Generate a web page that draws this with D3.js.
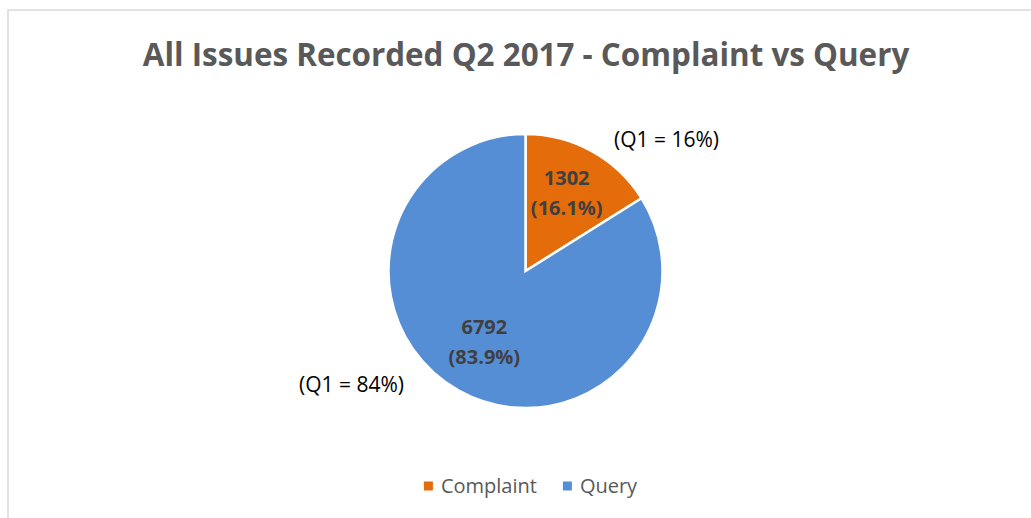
<!DOCTYPE html>
<html>
<head>
<meta charset="utf-8">
<script src="https://cdn.jsdelivr.net/npm/d3@7"></script>
<style>
  html, body { margin: 0; padding: 0; background: #fff; overflow: hidden; }
  svg { display: block; font-family: "Open Sans", sans-serif; }
</style>
</head>
<body>
<script>
const categories = ["Complaint", "Query"];
const counts = [1302, 6792];
const shares = ["16.1%", "83.9%"];
const q1Labels = ["(Q1 = 16%)", "(Q1 = 84%)"];
const colors = ["#E46C0A", "#558ED5"];

const width = 1031, height = 518;
const cx = 525.5, cy = 271, radius = 137;

const svg = d3.select('body').append('svg')
  .attr('width', width).attr('height', height);

// chart area border (runs off the right/bottom edge)
svg.append('rect')
  .attr('x', 8).attr('y', 10)
  .attr('width', 1200).attr('height', 700)
  .attr('fill', '#fff')
  .attr('stroke', '#d9d9d9')
  .attr('stroke-width', 1.5);

// title
const title = svg.append('text')
  .attr('x', 526).attr('y', 66)
  .attr('text-anchor', 'middle')
  .attr('font-weight', 700)
  .attr('font-size', '30px')
  .attr('fill', '#595959')
  .text('All Issues Recorded Q2 2017 - Complaint vs Query');
// fit to the original width
const tw = title.node().getComputedTextLength();
title.attr('font-size', (30 * 767 / tw) + 'px');

const pie = d3.pie().sort(null).value(d => d)(counts);
const arc = d3.arc().innerRadius(0).outerRadius(radius);
const labelArc = d3.arc().innerRadius(85).outerRadius(85);

const g = svg.append('g').attr('transform', `translate(${cx},${cy})`);

g.selectAll('path')
  .data(pie)
  .enter().append('path')
  .attr('d', arc)
  .attr('fill', (d, i) => colors[i])
  .attr('stroke', '#fff')
  .attr('stroke-width', 2.5)
  .attr('stroke-linejoin', 'miter');

const lbl = g.selectAll('text.lbl')
  .data(pie)
  .enter().append('text')
  .attr('class', 'lbl')
  .attr('text-anchor', 'middle')
  .attr('font-weight', 700)
  .attr('font-size', '20px')
  .attr('fill', '#404040')
  .attr('transform', d => {
    const [x, y] = labelArc.centroid(d);
    return `translate(${x},${y - 3.5})`;
  });
lbl.append('tspan').attr('x', 0).attr('y', -8).text((d, i) => counts[i]);
lbl.append('tspan').attr('x', 0).attr('y', 22).text((d, i) => `(${shares[i]})`);

// Q1 comparison notes, placed like the original text boxes
const noteOffsets = [[141, -131], [-174, 114]];
g.selectAll('text.note')
  .data(q1Labels)
  .enter().append('text')
  .attr('class', 'note')
  .attr('x', (d, i) => noteOffsets[i][0])
  .attr('y', (d, i) => noteOffsets[i][1])
  .attr('dy', '0.35em')
  .attr('text-anchor', 'middle')
  .attr('font-size', '21px')
  .attr('fill', '#000')
  .text(d => d);

// legend
const legend = svg.append('g');
const items = legend.selectAll('g')
  .data(categories)
  .enter().append('g');
items.append('rect')
  .attr('width', 9).attr('height', 9)
  .attr('y', -4.5)
  .attr('fill', (d, i) => colors[i]);
items.append('text')
  .attr('x', 17)
  .attr('dy', '0.35em')
  .attr('font-size', '20px')
  .attr('fill', '#595959')
  .text(d => d);

let lx = 0;
items.attr('transform', function () {
  const w = this.getBBox().width;
  const t = `translate(${lx},0)`;
  lx += w + 26;
  return t;
});
const legendW = lx - 26;
legend.attr('transform', `translate(${531 - legendW / 2},486)`);
</script>
</body>
</html>
